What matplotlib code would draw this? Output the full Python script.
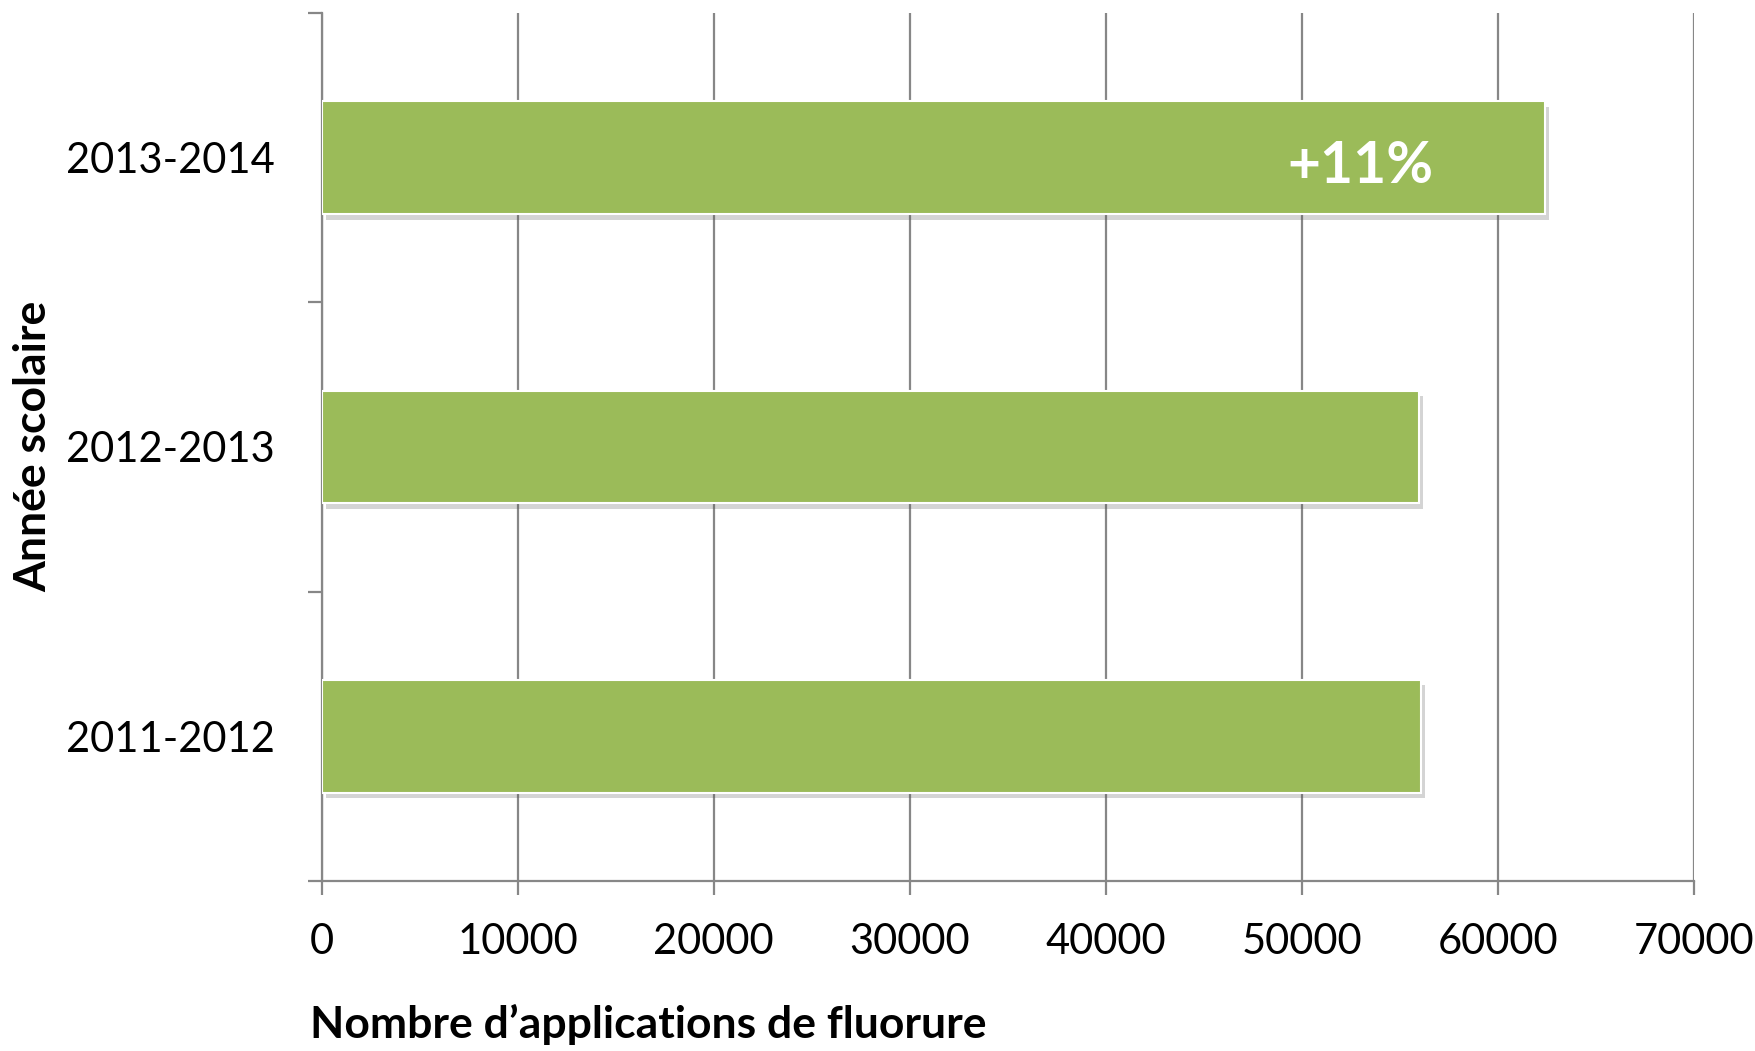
import numpy as np
import matplotlib.pyplot as plt
import matplotlib.patheffects as pe

plt.rcParams['font.family'] = ['Lato', 'DejaVu Sans']

years = ['2011-2012', '2012-2013', '2013-2014']
applications = [56100, 56000, 62400]
x_ticks = [0, 10000, 20000, 30000, 40000, 50000, 60000, 70000]
increase_label = '+11%'

fig = plt.figure(figsize=(17.56, 10.51), dpi=100)
ax = fig.add_axes([0.1832, 0.1618, 0.7813, 0.8258])

y = np.arange(len(years))
bars = ax.barh(y, applications, height=0.39, color='#9BBB59',
               edgecolor='white', linewidth=1.5, zorder=3)
for b in bars:
    b.set_path_effects([pe.SimplePatchShadow(offset=(3, -4), alpha=0.25, shadow_rgbFace='#555555'),
                        pe.Normal()])

# annotation on the last bar
ax.annotate(increase_label, xy=(applications[-1], y[-1]), xytext=(-80, -6),
            textcoords='offset points', ha='right', va='center',
            color='white', fontsize=41, fontweight='bold', zorder=4)

ax.set_xlim(0, 70000)
ax.set_ylim(-0.5, len(years) - 0.5)
ax.set_xticks(x_ticks)
ax.set_xticklabels([str(v) for v in x_ticks])
ax.set_yticks(y)
ax.set_yticklabels(years)
ax.set_yticks(np.arange(len(years) + 1) - 0.5, minor=True)

ax.grid(axis='x', color='#878787', linewidth=1.6, zorder=0)
ax.set_axisbelow(True)

for s in ['top', 'right']:
    ax.spines[s].set_visible(False)
for s in ['left', 'bottom']:
    ax.spines[s].set_color('#878787')
    ax.spines[s].set_linewidth(1.6)

ax.tick_params(axis='y', which='major', length=0, pad=34, labelsize=30)
ax.tick_params(axis='y', which='minor', length=10, width=1.6, color='#878787', direction='out')
ax.tick_params(axis='x', which='major', length=10, width=1.6, color='#878787',
               direction='out', pad=20, labelsize=30)

fig.text(0.1765, 0.012, "Nombre d\u2019applications de fluorure", fontsize=32,
         fontweight='bold', ha='left', va='baseline')
fig.text(0.019, 0.5757, 'Ann\u00e9e scolaire', fontsize=32, fontweight='bold',
         rotation=90, ha='center', va='center')

fig.savefig('out.png', dpi=100)
